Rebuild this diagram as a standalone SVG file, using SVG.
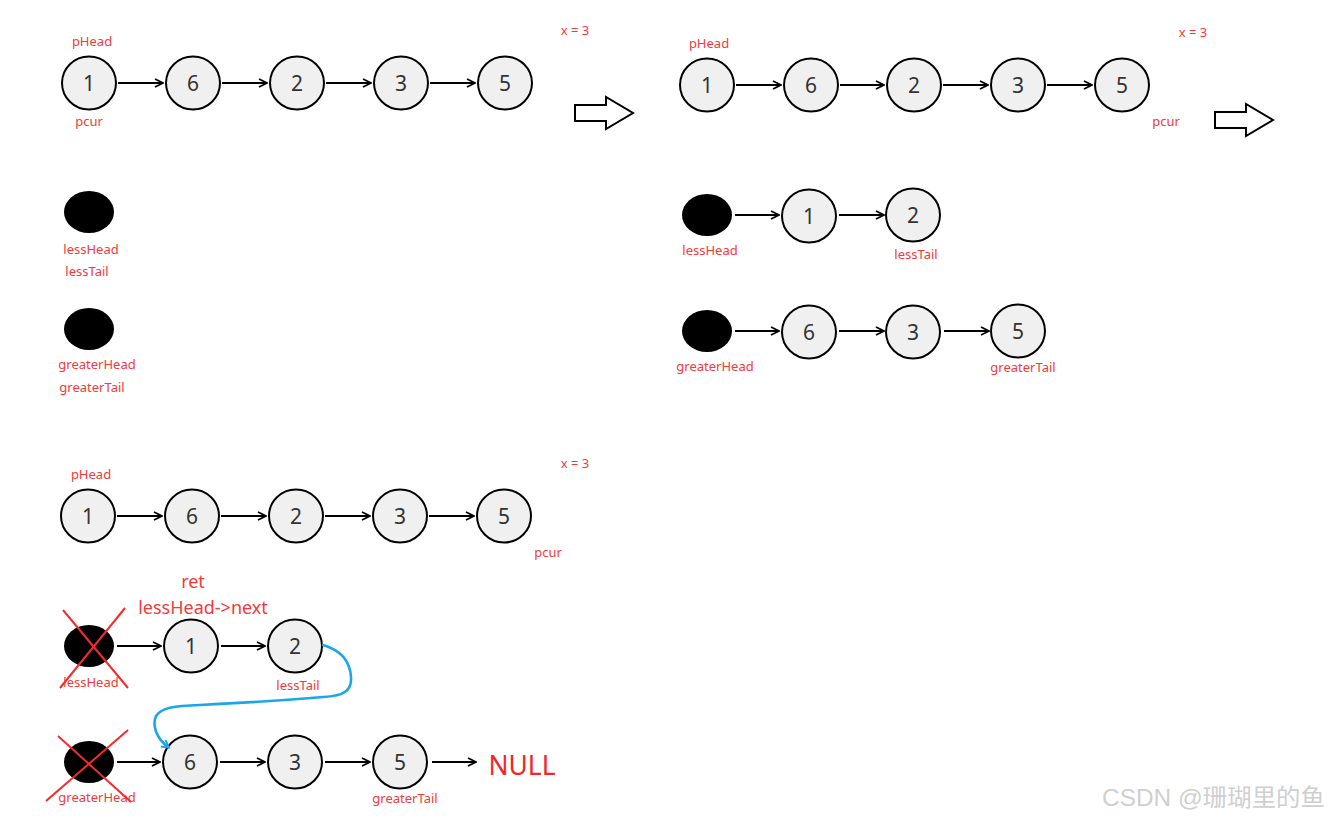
<svg xmlns="http://www.w3.org/2000/svg" width="1329" height="819" viewBox="0 0 1329 819">
<style>
.n{fill:#f0f0f0;stroke:#000;stroke-width:2}
.b{fill:#000}
.d{font-family:"Noto Sans","Liberation Sans",sans-serif;font-size:21px;fill:#333;text-anchor:middle}
.l{font-family:"Noto Sans","Liberation Sans",sans-serif;font-size:13px;fill:#f23a3a;text-anchor:middle}
.L{font-family:"Noto Sans","Liberation Sans",sans-serif;font-size:18px;fill:#f23a3a;text-anchor:middle}
.e{stroke:#000;stroke-width:1.8;fill:none;marker-end:url(#ah)}
.x{stroke:#f52a2a;stroke-width:2}
.h{fill:#fff;stroke:#000;stroke-width:2;stroke-linejoin:miter}
</style>
<defs>
<marker id="ah" viewBox="0 0 10 10" refX="9" refY="5" markerWidth="10" markerHeight="10" markerUnits="userSpaceOnUse" orient="auto">
<path d="M1,1 L9,5 L1,9" fill="none" stroke="#000" stroke-width="1.8"/>
</marker>
<marker id="bh" viewBox="0 0 10 10" refX="7" refY="5" markerWidth="10" markerHeight="10" markerUnits="userSpaceOnUse" orient="auto">
<path d="M1,1 L8,5 L1,9" fill="none" stroke="#1ba6ea" stroke-width="2"/>
</marker>
</defs>
<rect width="1329" height="819" fill="#fff"/>

<!-- Panel 1 -->
<g id="p1-labels">
<text class="l" x="92" y="46">pHead</text>
<text class="l" x="89" y="126">pcur</text>
<text class="l" x="575" y="35">x = 3</text>
</g>
<g id="p1-n1"><ellipse class="n" cx="89" cy="83" rx="27" ry="26.5"/><text class="d" x="89" y="90.5">1</text></g>
<g id="p1-n2"><ellipse class="n" cx="193" cy="83" rx="27" ry="26.5"/><text class="d" x="193" y="90.5">6</text></g>
<g id="p1-n3"><ellipse class="n" cx="297" cy="83" rx="27" ry="26.5"/><text class="d" x="297" y="90.5">2</text></g>
<g id="p1-n4"><ellipse class="n" cx="401" cy="83" rx="27" ry="26.5"/><text class="d" x="401" y="90.5">3</text></g>
<g id="p1-n5"><ellipse class="n" cx="505" cy="83" rx="27" ry="26.5"/><text class="d" x="505" y="90.5">5</text></g>
<g id="p1-less"><ellipse class="b" cx="89" cy="212" rx="25" ry="21"/><text class="l" x="91" y="254">lessHead</text><text class="l" x="87" y="276">lessTail</text></g>
<g id="p1-greater"><ellipse class="b" cx="89" cy="329" rx="25" ry="21"/><text class="l" x="97" y="369">greaterHead</text><text class="l" x="92" y="392">greaterTail</text></g>
<g id="big-arrow-1"><polygon class="h" points="575,105 606,105 606,97 633,113 606,129 606,121 575,121"/></g>

<!-- Panel 2 -->
<g id="p2-labels">
<text class="l" x="709" y="48">pHead</text>
<text class="l" x="1193" y="37">x = 3</text>
<text class="l" x="1166" y="126">pcur</text>
</g>
<g id="p2-n1"><ellipse class="n" cx="707" cy="85" rx="27" ry="26.5"/><text class="d" x="707" y="92.5">1</text></g>
<g id="p2-n2"><ellipse class="n" cx="811" cy="85" rx="27" ry="26.5"/><text class="d" x="811" y="92.5">6</text></g>
<g id="p2-n3"><ellipse class="n" cx="914" cy="85" rx="27" ry="26.5"/><text class="d" x="914" y="92.5">2</text></g>
<g id="p2-n4"><ellipse class="n" cx="1018" cy="85" rx="27" ry="26.5"/><text class="d" x="1018" y="92.5">3</text></g>
<g id="p2-n5"><ellipse class="n" cx="1122" cy="85" rx="27" ry="26.5"/><text class="d" x="1122" y="92.5">5</text></g>
<g id="big-arrow-2"><polygon class="h" points="1215,112 1246,112 1246,104 1273,120 1246,136 1246,128 1215,128"/></g>
<g id="p2-lesshead"><ellipse class="b" cx="707" cy="215" rx="25" ry="21"/><text class="l" x="710" y="255">lessHead</text></g>
<g id="p2-l1"><ellipse class="n" cx="809" cy="216" rx="27" ry="26.5"/><text class="d" x="809" y="223.5">1</text></g>
<g id="p2-l2"><ellipse class="n" cx="913" cy="215" rx="27" ry="26.5"/><text class="d" x="913" y="222.5">2</text><text class="l" x="916" y="259">lessTail</text></g>
<g id="p2-greaterhead"><ellipse class="b" cx="707" cy="331" rx="25" ry="21"/><text class="l" x="715" y="371">greaterHead</text></g>
<g id="p2-g1"><ellipse class="n" cx="809" cy="332" rx="27" ry="26.5"/><text class="d" x="809" y="339.5">6</text></g>
<g id="p2-g2"><ellipse class="n" cx="913" cy="332" rx="27" ry="26.5"/><text class="d" x="913" y="339.5">3</text></g>
<g id="p2-g3"><ellipse class="n" cx="1018" cy="331" rx="27" ry="26.5"/><text class="d" x="1018" y="338.5">5</text><text class="l" x="1023" y="372">greaterTail</text></g>

<!-- Panel 3 -->
<g id="p3-labels">
<text class="l" x="575" y="468">x = 3</text>
<text class="l" x="91" y="479">pHead</text>
<text class="l" x="548" y="557">pcur</text>
<text class="L" x="193" y="588">ret</text>
<text class="L" x="203" y="614">lessHead-&gt;next</text>
</g>
<g id="p3-n1"><ellipse class="n" cx="88" cy="516" rx="27" ry="26.5"/><text class="d" x="88" y="523.5">1</text></g>
<g id="p3-n2"><ellipse class="n" cx="192" cy="516" rx="27" ry="26.5"/><text class="d" x="192" y="523.5">6</text></g>
<g id="p3-n3"><ellipse class="n" cx="296" cy="516" rx="27" ry="26.5"/><text class="d" x="296" y="523.5">2</text></g>
<g id="p3-n4"><ellipse class="n" cx="400" cy="516" rx="27" ry="26.5"/><text class="d" x="400" y="523.5">3</text></g>
<g id="p3-n5"><ellipse class="n" cx="504" cy="516" rx="27" ry="26.5"/><text class="d" x="504" y="523.5">5</text></g>
<g id="p3-lesshead"><ellipse class="b" cx="89" cy="646" rx="25" ry="21"/><text class="l" x="91" y="687">lessHead</text><line class="x" x1="63" y1="610" x2="128" y2="688"/><line class="x" x1="125" y1="608" x2="60" y2="688"/></g>
<g id="p3-l1"><ellipse class="n" cx="191" cy="646" rx="27" ry="26.5"/><text class="d" x="191" y="653.5">1</text></g>
<g id="p3-l2"><ellipse class="n" cx="295" cy="646" rx="27" ry="26.5"/><text class="d" x="295" y="653.5">2</text><text class="l" x="298" y="690">lessTail</text></g>
<g id="p3-greaterhead"><ellipse class="b" cx="89" cy="762" rx="25" ry="21"/><text class="l" x="97" y="802">greaterHead</text><line class="x" x1="58" y1="736" x2="131" y2="802"/><line class="x" x1="128" y1="730" x2="46" y2="801"/></g>
<g id="p3-g1"><ellipse class="n" cx="190" cy="762" rx="27" ry="26.5"/><text class="d" x="190" y="769.5">6</text></g>
<g id="p3-g2"><ellipse class="n" cx="295" cy="762" rx="27" ry="26.5"/><text class="d" x="295" y="769.5">3</text></g>
<g id="p3-g3"><ellipse class="n" cx="400" cy="762" rx="27" ry="26.5"/><text class="d" x="400" y="769.5">5</text><text class="l" x="405" y="803">greaterTail</text></g>
<g id="p3-null"><text x="522" y="775" font-family="Noto Sans, Liberation Sans, sans-serif" font-size="28" fill="#f2262a" text-anchor="middle" textLength="67" lengthAdjust="spacingAndGlyphs">NULL</text></g>

<g id="connectors">
<line class="e" x1="118" y1="83" x2="163" y2="83"/>
<line class="e" x1="222" y1="83" x2="267" y2="83"/>
<line class="e" x1="326" y1="83" x2="371" y2="83"/>
<line class="e" x1="430" y1="83" x2="475" y2="83"/>
<line class="e" x1="736" y1="85" x2="781" y2="85"/>
<line class="e" x1="840" y1="85" x2="884" y2="85"/>
<line class="e" x1="943" y1="85" x2="988" y2="85"/>
<line class="e" x1="1047" y1="85" x2="1092" y2="85"/>
<line class="e" x1="735" y1="215" x2="779" y2="215"/>
<line class="e" x1="839" y1="215" x2="884" y2="215"/>
<line class="e" x1="735" y1="331" x2="779" y2="331"/>
<line class="e" x1="839" y1="331" x2="884" y2="331"/>
<line class="e" x1="944" y1="331" x2="989" y2="331"/>
<line class="e" x1="117" y1="516" x2="162" y2="516"/>
<line class="e" x1="221" y1="516" x2="266" y2="516"/>
<line class="e" x1="325" y1="516" x2="370" y2="516"/>
<line class="e" x1="429" y1="516" x2="474" y2="516"/>
<line class="e" x1="117" y1="646" x2="161" y2="646"/>
<line class="e" x1="221" y1="646" x2="265" y2="646"/>
<line class="e" x1="117" y1="762" x2="160" y2="762"/>
<line class="e" x1="220" y1="762" x2="265" y2="762"/>
<line class="e" x1="325" y1="762" x2="370" y2="762"/>
<line class="e" x1="432" y1="762" x2="476" y2="762"/>
<path d="M323,645 C340,650 350,660 351,677 C352,690 345,696 323,697 C290,700 240,703 200,705 C175,706 162,707 156,716 C152,725 156,738 168,747" fill="none" stroke="#1ba6ea" stroke-width="2.6" stroke-linecap="round" marker-end="url(#bh)"/>
</g>

<g id="watermark"><text x="1325" y="806" font-family="Liberation Sans, Noto Sans CJK SC, sans-serif" font-size="24" fill="#cfcfcf" text-anchor="end" textLength="223" lengthAdjust="spacingAndGlyphs">CSDN @珊瑚里的鱼</text></g>
</svg>
